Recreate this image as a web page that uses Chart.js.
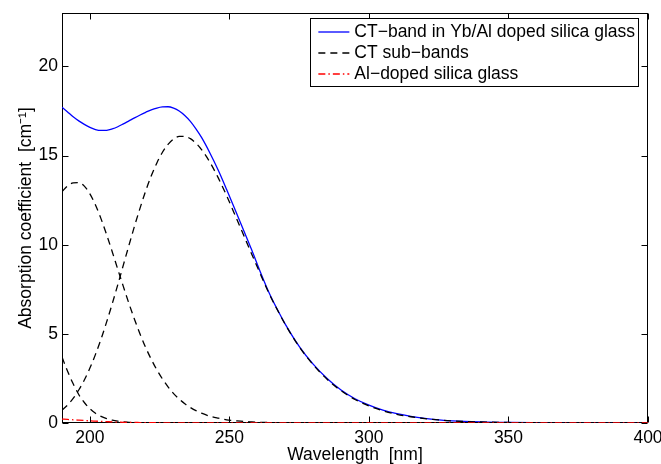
<!DOCTYPE html>
<html>
<head>
<meta charset="utf-8">
<script src="https://cdn.jsdelivr.net/npm/chart.js@4/dist/chart.umd.min.js"></script>
<style>
  body { margin: 0; background: #fff; }
  canvas { display: block; }
</style>
</head>
<body>
<canvas id="absChart" width="661" height="464"></canvas>
<script>
// wavelength grid (nm), shared by all curves
const wavelength = [190, 192, 194, 196, 198, 200, 202, 204, 206, 208, 210, 212, 214, 216, 218, 220, 222, 224, 226, 228, 230, 232, 234, 236, 238, 240,
  243, 246, 249, 252, 255, 258, 261, 264, 267, 270,
  275, 280, 285, 290, 295, 300, 305, 310, 315, 320, 325, 330,
  340, 350, 360, 370, 380, 390, 400];

// CT-band in Yb/Al doped silica glass (cm^-1)
const ctBand = [17.72, 17.45, 17.18, 16.95, 16.75, 16.58, 16.46, 16.41, 16.42, 16.5, 16.62, 16.78, 16.95, 17.12, 17.28, 17.43, 17.57, 17.67, 17.73, 17.74, 17.66, 17.5, 17.25, 16.92, 16.5, 16.02,
  15.15, 14.18, 13.1, 11.98, 10.84, 9.7, 8.5, 7.38, 6.42, 5.55,
  4.3, 3.3, 2.5, 1.85, 1.36, 1.0, 0.72, 0.52, 0.37, 0.26, 0.18, 0.12,
  0.06, 0.03, 0.015, 0.007, 0.003, 0.001, 0];

// CT sub-bands
const subBand1 = [12.98, 13.3, 13.47, 13.49, 13.29, 12.85, 12.23, 11.45, 10.56, 9.61, 8.62, 7.65, 6.7, 5.81, 4.98, 4.23, 3.57, 2.98, 2.47, 2.03, 1.65, 1.34, 1.08, 0.87, 0.69, 0.55,
  0.38, 0.27, 0.18, 0.13, 0.085, 0.06, 0.04, 0.03, 0.02, 0.01,
  0.005, 0, 0, 0, 0, 0, 0, 0, 0, 0, 0, 0,
  0, 0, 0, 0, 0, 0, 0];
const subBand2 = [0.72, 1.01, 1.38, 1.85, 2.41, 3.08, 3.85, 4.71, 5.67, 6.69, 7.76, 8.87, 9.97, 11.05, 12.07, 13.02, 13.87, 14.59, 15.19, 15.63, 15.93, 16.08, 16.08, 15.95, 15.7, 15.34,
  14.63, 13.75, 12.75, 11.67, 10.57, 9.47, 8.39, 7.33, 6.4, 5.53,
  4.28, 3.27, 2.45, 1.81, 1.32, 0.96, 0.69, 0.49, 0.35, 0.25, 0.17, 0.11,
  0.055, 0.028, 0.014, 0.006, 0.002, 0, 0];
const subBand3 = [3.7, 2.9, 2.2, 1.6, 1.15, 0.8, 0.55, 0.37, 0.25, 0.16, 0.1, 0.06, 0.04, 0.02, 0.01, 0.005, 0, 0, 0, 0, 0, 0, 0, 0, 0, 0,
  0, 0, 0, 0, 0, 0, 0, 0, 0, 0,
  0, 0, 0, 0, 0, 0, 0, 0, 0, 0, 0, 0,
  0, 0, 0, 0, 0, 0, 0];

// Al-doped silica glass
const alDoped = [0.22, 0.2, 0.18, 0.16, 0.14, 0.12, 0.105, 0.09, 0.075, 0.06, 0.05, 0.04, 0.035, 0.03, 0.025, 0.02, 0.018, 0.015, 0.01, 0.008, 0.005, 0.003, 0, 0, 0, 0,
  0, 0, 0, 0, 0, 0, 0, 0, 0, 0,
  0, 0, 0, 0, 0, 0, 0, 0, 0, 0, 0, 0,
  0, 0, 0, 0, 0, 0, 0];

const xTicks = [200, 250, 300, 350, 400];
const yTicks = [0, 5, 10, 15, 20];

const FONT = "'Liberation Sans', Arial, Helvetica, sans-serif";

function toPoints(ys) {
  return wavelength.map((x, i) => ({ x: x, y: ys[i] }));
}

// matlab style box, inward ticks and legend
const matlabBox = {
  id: "matlabBox",
  beforeDatasetsDraw(chart) {
    const { ctx, chartArea: a, scales } = chart;
    const L = Math.round(a.left) + 0.5, R = Math.round(a.right) - 0.5;
    const T = Math.round(a.top) + 0.5, B = Math.round(a.bottom) - 0.5;
    ctx.save();
    ctx.strokeStyle = "#000";
    ctx.lineWidth = 1;
    ctx.strokeRect(L, T, R - L, B - T);
    ctx.beginPath();
    xTicks.forEach((v) => {
      const px = Math.round(scales.x.getPixelForValue(v)) + 0.5;
      ctx.moveTo(px, B); ctx.lineTo(px, B - 6);
      ctx.moveTo(px, T); ctx.lineTo(px, T + 6);
    });
    yTicks.forEach((v) => {
      const py = Math.round(scales.y.getPixelForValue(v)) + 0.5;
      ctx.moveTo(L, py); ctx.lineTo(L + 6, py);
      ctx.moveTo(R, py); ctx.lineTo(R - 6, py);
    });
    ctx.stroke();
    ctx.restore();
  },
  afterDraw(chart) {
    const { ctx, chartArea: a } = chart;
    const seen = [];
    const items = chart.data.datasets.filter((d) => {
      if (seen.includes(d.label)) return false;
      seen.push(d.label);
      return true;
    });
    ctx.save();
    ctx.font = "17.5px " + FONT;
    const textW = Math.max(...items.map((d) => ctx.measureText(d.label).width));
    const boxW = 8 + 31 + 5 + textW + 3;
    const boxH = 68;
    const right = Math.round(a.right) - 10;
    const left = right - boxW;
    const top = Math.round(a.top) + 5;
    ctx.fillStyle = "#fff";
    ctx.fillRect(left, top, boxW, boxH);
    ctx.strokeStyle = "#000";
    ctx.lineWidth = 1;
    ctx.strokeRect(Math.round(left) + 0.5, top + 0.5, Math.round(boxW), boxH);
    items.forEach((d, i) => {
      const y = top + 14 + i * 21;
      ctx.beginPath();
      ctx.setLineDash(d.borderDash || []);
      ctx.strokeStyle = d.borderColor;
      ctx.lineWidth = d.borderWidth;
      ctx.moveTo(left + 8, y);
      ctx.lineTo(left + 39, y);
      ctx.stroke();
      ctx.setLineDash([]);
      ctx.fillStyle = "#000";
      ctx.textBaseline = "middle";
      ctx.textAlign = "left";
      ctx.fillText(d.label, left + 44, y);
    });
    ctx.restore();
  },
};

const dashed = [7, 5];
const dashDot = [7, 3, 1.5, 3];

function lineSet(label, ys, color, dash, order) {
  return {
    label: label,
    data: toPoints(ys),
    borderColor: color,
    borderWidth: 1.3,
    borderDash: dash,
    pointRadius: 0,
    fill: false,
    cubicInterpolationMode: "monotone",
    order: order,
  };
}

new Chart(document.getElementById("absChart"), {
  type: "line",
  data: {
    datasets: [
      lineSet("CT\u2212band in Yb/Al doped silica glass", ctBand, "#0000ff", [], 3),
      lineSet("CT sub\u2212bands", subBand1, "#000000", dashed, 2),
      lineSet("CT sub\u2212bands", subBand2, "#000000", dashed, 2),
      lineSet("CT sub\u2212bands", subBand3, "#000000", dashed, 2),
      lineSet("Al\u2212doped silica glass", alDoped, "#ff0000", dashDot, 1),
    ],
  },
  options: {
    responsive: false,
    animation: false,
    layout: { padding: { top: 13, right: 13, left: 0, bottom: 0 } },
    plugins: { legend: { display: false }, tooltip: { enabled: false } },
    scales: {
      x: {
        type: "linear",
        min: 190,
        max: 400,
        grid: { display: false, drawTicks: false },
        border: { display: false },
        afterBuildTicks: (s) => { s.ticks = xTicks.map((v) => ({ value: v })); },
        afterFit: (s) => { s.height = 41; s.paddingLeft = 0; s.paddingRight = 0; },
        ticks: { color: "#000", padding: 5, maxRotation: 0, font: { family: FONT, size: 17.5 } },
        title: {
          display: true,
          text: "Wavelength  [nm]",
          color: "#000",
          padding: { top: 0, bottom: 0 },
          font: { family: FONT, size: 17.5, lineHeight: 1.0 },
        },
      },
      y: {
        min: 0,
        max: 23,
        grid: { display: false, drawTicks: false },
        border: { display: false },
        afterBuildTicks: (s) => { s.ticks = yTicks.map((v) => ({ value: v })); },
        afterFit: (s) => { s.width = 62; s.paddingTop = 0; s.paddingBottom = 0; },
        ticks: { color: "#000", padding: 4, font: { family: FONT, size: 17.5 } },
        title: {
          display: true,
          text: "Absorption coefficient  [cm\u207B\u00B9]",
          color: "#000",
          padding: { top: 17, bottom: 0 },
          font: { family: FONT, size: 17.5, lineHeight: 1.1 },
        },
      },
    },
  },
  plugins: [matlabBox],
});
</script>
</body>
</html>
